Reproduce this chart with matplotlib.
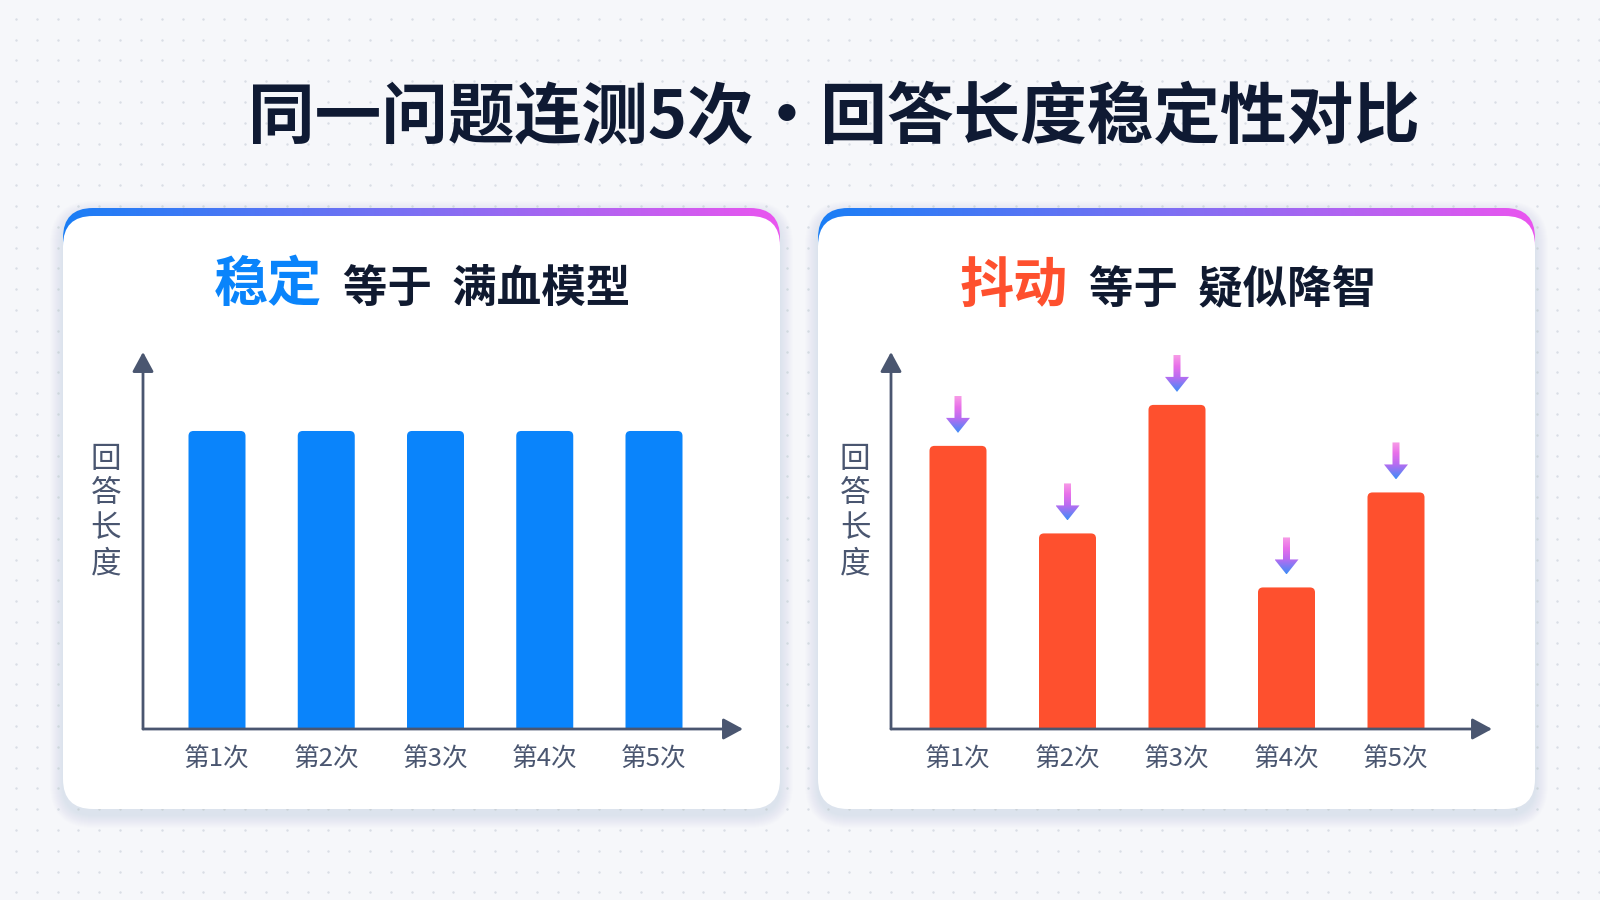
import numpy as np
import matplotlib.pyplot as plt
from matplotlib.patches import FancyBboxPatch, Polygon
from matplotlib.colors import LinearSegmentedColormap

plt.rcParams['font.family'] = ['Noto Sans CJK SC', 'DejaVu Sans']

# data
title = '同一问题连测5次·回答长度稳定性对比'
runs = ['第1次', '第2次', '第3次', '第4次', '第5次']
stable_len = [800, 800, 800, 800, 800]
jitter_len = [760, 525, 870, 380, 635]
ylabel = '回答长度'
left_head = ('稳定', '等于  满血模型')
right_head = ('抖动', '等于  疑似降智')

W, H = 1600, 900
INK = '#4a5670'
DARK = '#101a30'
BLUE = '#0a84fb'
RED = '#fe502e'
YMAX = 1012

fig = plt.figure(figsize=(16, 9), dpi=100)
fig.patch.set_facecolor('#f6f7fa')

# background layer in pixel coords (y down)
bg = fig.add_axes([0, 0, 1, 1])
bg.axis('off')

gx, gy = np.meshgrid(np.arange(16, W, 20.83), np.arange(18.7, H, 20.8))
bg.scatter(gx.ravel(), gy.ravel(), s=3, color='#d9dde5', lw=0, zorder=0)

top_grad = LinearSegmentedColormap.from_list('top', ['#1a7ef6', '#7f6ff3', '#ea55ef'])
cards = [(63, 208, 717, 601), (818, 208, 717, 601)]
for (x, y, w, h) in cards:
    # soft shadow
    for k in range(1, 14):
        bg.add_patch(FancyBboxPatch((x - k, y + 6 - k), w + 2 * k, h + 2 * k,
                                    boxstyle=f'round,pad=0,rounding_size={30 + k}',
                                    fc='#5a6b8c', ec='none', alpha=0.006, zorder=1))
    clip = FancyBboxPatch((x, y), w, 140, boxstyle='round,pad=0,rounding_size=30',
                          fc='none', ec='none', zorder=2)
    bg.add_patch(clip)
    im = bg.imshow(np.linspace(0, 1, 256)[None, :], cmap=top_grad, aspect='auto',
                   extent=(x, x + w, y + 140, y), zorder=2)
    im.set_clip_path(clip)
    bg.add_patch(FancyBboxPatch((x, y + 8), w, h - 8, boxstyle='round,pad=0,rounding_size=30',
                                fc='white', ec='none', zorder=3))

bg.set_xlim(0, W)
bg.set_ylim(H, 0)

bg.text(834, 119, title, ha='center', va='center', fontsize=48, weight='heavy',
        color='#0f1a33', zorder=5)

bg.text(322, 286, left_head[0], ha='right', va='center', fontsize=39, weight='heavy',
        color=BLUE, zorder=5)
bg.text(343, 289, left_head[1], ha='left', va='center', fontsize=32, weight='bold',
        color=DARK, zorder=5)
bg.text(1068, 286, right_head[0], ha='right', va='center', fontsize=39, weight='heavy',
        color=RED, zorder=5)
bg.text(1089, 289, right_head[1], ha='left', va='center', fontsize=32, weight='bold',
        color=DARK, zorder=5)

for lx in (106, 855):
    for k, ch in enumerate(ylabel):
        bg.text(lx, 459 + 35 * k, ch, ha='center', va='center', fontsize=22,
                weight='medium', color=INK, zorder=5)


def chart(x0, x1, c0, step, values, color):
    ax = fig.add_axes([x0 / W, (H - 729) / H, (x1 - x0) / W, 377 / H])
    ax.patch.set_facecolor('none')
    xlo, xhi = (x0 - c0) / step, (x1 - c0) / step
    ax.set_xlim(xlo, xhi)
    ax.set_ylim(0, YMAX)
    for s in ax.spines.values():
        s.set_visible(False)
    xu = (xhi - xlo) / (x1 - x0)
    yu = YMAX / 377
    bw = 57 * xu
    for i, v in enumerate(values):
        ax.add_patch(FancyBboxPatch((i - bw / 2, -40), bw, v + 40,
                                    boxstyle=f'round,pad=0,rounding_size={5 * xu}',
                                    mutation_aspect=yu / xu, fc=color, ec='none'))
    ax.set_xticks(range(len(runs)), runs, fontsize=18.5, color=INK, weight='medium')
    ax.set_yticks([])
    ax.tick_params(length=0, pad=13)
    ap = dict(arrowstyle='-|>,head_length=1.2,head_width=0.65', color=INK, lw=2,
              shrinkA=0, shrinkB=0)
    ax.annotate('', xy=(1, 0), xytext=(0, 0), xycoords='axes fraction', arrowprops=ap,
                annotation_clip=False)
    ax.annotate('', xy=(0, 1), xytext=(0, 0), xycoords='axes fraction', arrowprops=ap,
                annotation_clip=False)
    return ax


ax_l = chart(143, 743, 217, 109.25, stable_len, BLUE)
ax_r = chart(891, 1492, 958, 109.5, jitter_len, RED)

# gradient arrows over the jittery bars
ov = fig.add_axes([0, 0, 1, 1])
ov.axis('off')
ov.patch.set_facecolor('none')
arr_grad = LinearSegmentedColormap.from_list('arr', [(0, '#3d8df7'), (0.4, '#b86cf1'),
                                                     (0.7, '#e870ea'), (1, '#f79be6')])
for i, v in enumerate(jitter_len):
    px, py = ax_r.transData.transform((i, v))
    tip = py + 13
    pts = [(px - 3.5, tip + 37), (px + 3.5, tip + 37), (px + 3.5, tip + 15),
           (px + 12, tip + 15), (px, tip), (px - 12, tip + 15), (px - 3.5, tip + 15)]
    poly = Polygon(pts, closed=True, fc='none', ec='none')
    ov.add_patch(poly)
    im = ov.imshow(np.linspace(0, 1, 64)[:, None], cmap=arr_grad, origin='lower',
                   aspect='auto', extent=(px - 12, px + 12, tip, tip + 37))
    im.set_clip_path(poly)
ov.set_xlim(0, W)
ov.set_ylim(0, H)

fig.savefig('out.png', dpi=100, facecolor=fig.get_facecolor())
